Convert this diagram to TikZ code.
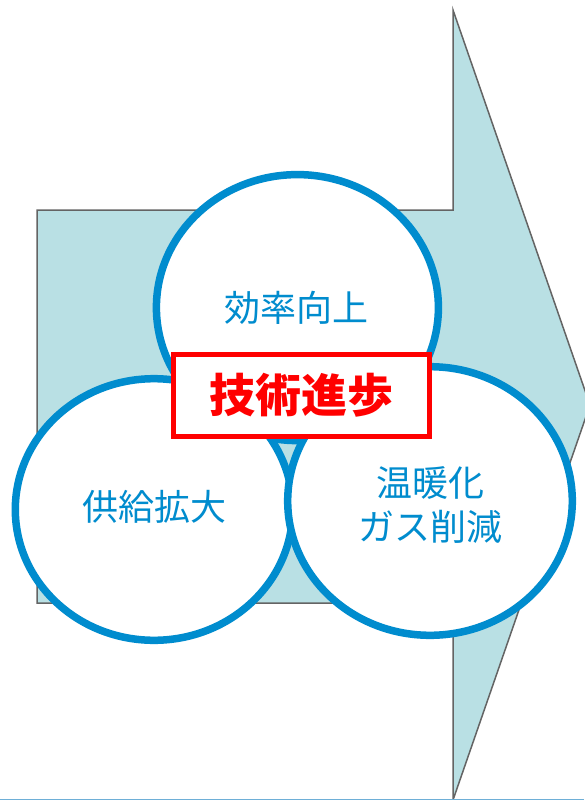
\documentclass[tikz,border=0pt]{standalone}
\usepackage{fontspec}
\newfontfamily\jp{Noto Sans CJK JP}
\definecolor{arrowfill}{RGB}{185,224,228}
\definecolor{arrowline}{RGB}{100,100,100}
\definecolor{bubbleblue}{RGB}{0,140,206}
\definecolor{framered}{RGB}{255,0,0}
\definecolor{edgeblue}{RGB}{110,175,215}
\begin{document}
\begin{tikzpicture}[x=1pt,y=-1pt,
  bigarrow/.style={fill=arrowfill, draw=arrowline, line width=1.5pt, line join=miter},
  bubble/.style={draw=bubbleblue, line width=7.5pt, fill=white},
  bubbletext/.style={text=bubbleblue, font=\jp\fontsize{36}{44}\selectfont, align=center, inner sep=0pt},
  keybox/.style={draw=framered, line width=5pt, fill=white, minimum width=256pt, minimum height=82.3pt, inner sep=0pt,
    text=framered, font=\jp\bfseries\fontsize{46}{50}\selectfont}
]
\useasboundingbox (0,0) rectangle (584,800);
\fill[white] (0,0) rectangle (584,800);
% big arrow
\draw[bigarrow] (37,210) -- (453,210) -- (453,10) -- (590,405) -- (453,800) -- (453,603) -- (37,603) -- cycle;
% bubbles
\path[bubble] (297.4,307.6) ellipse [x radius=141, y radius=133];
\path[bubble] (154,509.5) ellipse [x radius=138.7, y radius=130.8];
\path[bubble] (430,501) ellipse [x radius=142.3, y radius=134.3];
% texts
\node[bubbletext] (eff) at (296.6,307.5) {効率向上};
\node[bubbletext] (sup) at (154.5,506.5) {供給拡大};
\node[bubbletext] (ghg) at (430,504.5) {温暖化\\ガス削減};
% key box
\node[keybox] (tech) at (301.2,395.35) {\raisebox{-2pt}{技術進歩}};
% bottom border line
\draw[edgeblue, line width=1pt] (0,799.5) -- (584,799.5);
\end{tikzpicture}
\end{document}
